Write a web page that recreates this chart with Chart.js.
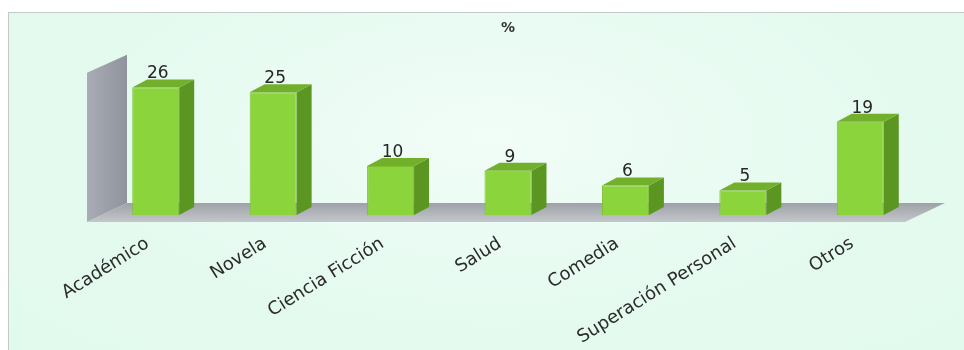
<!DOCTYPE html>
<html>
<head>
<meta charset="utf-8">
<script src="https://cdn.jsdelivr.net/npm/chart.js@4.4.0/dist/chart.umd.min.js"></script>
<style>
    body { margin: 0; background: #ffffff; }
    #wrap { position: relative; width: 964px; height: 350px; overflow: hidden; }
    #panel {
        position: absolute; left: 8px; top: 12px; width: 970px; height: 350px;
        border: 1px solid #c4cbc6;
        background: radial-gradient(ellipse at 50% 35%, #f1fdf7 0%, #e4faef 60%, #e2f9ed 100%);
    }
    #chart { position: absolute; left: 0; top: 0; }
</style>
</head>
<body>
<div id="wrap">
    <div id="panel"></div>
    <canvas id="chart" width="964" height="350"></canvas>
</div>
<script>
    "use strict";

    // Data
    var categories = ["Académico", "Novela", "Ciencia Ficción", "Salud", "Comedia", "Superación Personal", "Otros"];
    var percents = [26, 25, 10, 9, 6, 5, 19];

    var depthX = 15, depthY = 8;

    // Fake 3D: wall, floor, bar sides and value labels
    var box3d = {
        id: "box3d",
        beforeDatasetsDraw: function (chart) {
            var c = chart.ctx, a = chart.chartArea;
            c.save();
            // left wall
            var g = c.createLinearGradient(a.left - 10, 0, a.left + 30, 0);
            g.addColorStop(0, "#a9acb4");
            g.addColorStop(1, "#8f939b");
            c.fillStyle = g;
            c.beginPath();
            c.moveTo(a.left - 10, a.top + 5);
            c.lineTo(a.left + 30, a.top - 13);
            c.lineTo(a.left + 30, a.bottom - 12);
            c.lineTo(a.left - 10, a.bottom + 7);
            c.closePath();
            c.fill();
            // floor
            var f = c.createLinearGradient(0, a.bottom - 12, 0, a.bottom + 7);
            f.addColorStop(0, "#9ea2a8");
            f.addColorStop(1, "#c3c6ca");
            c.fillStyle = f;
            c.beginPath();
            c.moveTo(a.left - 10, a.bottom + 7);
            c.lineTo(a.left + 30, a.bottom - 12);
            c.lineTo(a.right + 26, a.bottom - 12);
            c.lineTo(a.right - 14, a.bottom + 7);
            c.closePath();
            c.fill();
            c.restore();
        },
        afterDatasetsDraw: function (chart) {
            var c = chart.ctx;
            var meta = chart.getDatasetMeta(0);
            c.save();
            meta.data.forEach(function (bar, i) {
                var left = bar.x - bar.width / 2, right = bar.x + bar.width / 2;
                var top = bar.y, base = bar.base;
                // side face
                c.fillStyle = "#5c9622";
                c.beginPath();
                c.moveTo(right, top);
                c.lineTo(right + depthX, top - depthY);
                c.lineTo(right + depthX, base - depthY);
                c.lineTo(right, base);
                c.closePath();
                c.fill();
                // top face
                c.fillStyle = "#72b02c";
                c.beginPath();
                c.moveTo(left, top);
                c.lineTo(left + depthX, top - depthY);
                c.lineTo(right + depthX, top - depthY);
                c.lineTo(right, top);
                c.closePath();
                c.fill();
                // value
                c.fillStyle = "#262626";
                c.font = "17px 'DejaVu Sans'";
                c.textAlign = "center";
                c.textBaseline = "bottom";
                c.fillText(percents[i], bar.x + 2, top - depthY + 3);
            });
            c.restore();
        }
    };

    var ctx = document.getElementById("chart").getContext("2d");
    var myChart = new Chart(ctx, {
        type: "bar",
        data: {
            labels: categories,
            datasets: [{
                data: percents,
                backgroundColor: "#8cd43b",
                borderColor: "#7cc030",
                borderWidth: 1,
                barPercentage: 0.8,
                categoryPercentage: 0.5
            }]
        },
        options: {
            responsive: false,
            animation: false,
            layout: { padding: { left: 97, right: 45, top: 20, bottom: 0 } },
            plugins: {
                legend: { display: false },
                tooltip: { enabled: false },
                title: {
                    display: true,
                    text: "%",
                    color: "#333333",
                    font: { family: "'DejaVu Sans'", size: 14, weight: "bold" },
                    padding: { top: 0, bottom: 31 }
                }
            },
            scales: {
                y: { display: false, min: 0, max: 30 },
                x: {
                    grid: { display: false },
                    border: { display: false },
                    ticks: {
                        color: "#2b2b2b",
                        font: { family: "'DejaVu Sans'", size: 18 },
                        minRotation: 32,
                        maxRotation: 32,
                        padding: 10,
                        labelOffset: -8
                    },
                    afterFit: function (scale) { scale.height = 135; }
                }
            }
        },
        plugins: [box3d]
    });
</script>
</body>
</html>
